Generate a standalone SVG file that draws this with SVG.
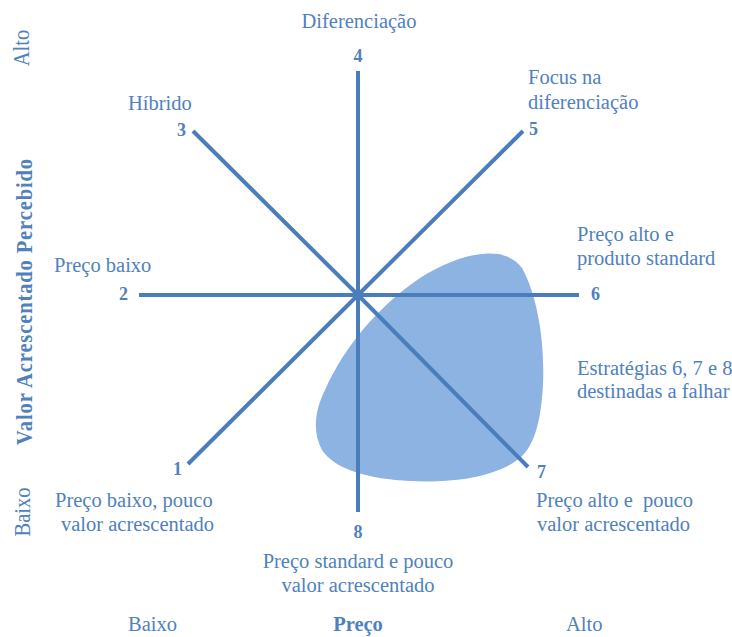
<svg xmlns="http://www.w3.org/2000/svg" width="732" height="637" viewBox="0 0 732 637">
  <style>
    text { font-family: "Liberation Serif", "Times New Roman", serif; fill: #4F81BD; font-size: 20.5px; }
    .num { font-weight: bold; font-size: 18px; }
    .bold { font-weight: bold; }
    .mid { text-anchor: middle; }
    .axis { stroke: #4A7EBB; stroke-width: 4; stroke-linecap: butt; fill: none; }
  </style>

  <rect width="732" height="637" fill="#ffffff"/>

  <!-- failure zone covering strategies 6, 7 and 8 -->
  <g id="zona-falha">
    <path d="M 483 254 C 502 252, 515 258, 522 268 C 537 295, 545 340, 543 385 C 541 420, 535 445, 520 458 C 495 478, 450 483, 410 481 C 370 479, 335 470, 322 450 C 312 432, 315 410, 325 390 C 345 345, 380 305, 420 278 C 440 265, 465 255, 483 254 Z" fill="#8DB3E2"/>
  </g>

  <!-- strategy spokes from the centre -->
  <g id="connectors">
    <line class="axis" x1="358" y1="295" x2="188" y2="464"/>
    <line class="axis" x1="358" y1="295" x2="139" y2="295"/>
    <line class="axis" x1="358" y1="295" x2="193" y2="131"/>
    <line class="axis" x1="358" y1="295" x2="358" y2="71"/>
    <line class="axis" x1="358" y1="295" x2="523" y2="131"/>
    <line class="axis" x1="358" y1="295" x2="579" y2="295"/>
    <line class="axis" x1="358" y1="295" x2="528" y2="467"/>
    <line class="axis" x1="358" y1="295" x2="358" y2="512"/>
  </g>

  <g id="n1">
    <text class="num" x="173" y="475">1</text>
    <text x="55" y="507">Preço baixo, pouco</text>
    <text x="61" y="531">valor acrescentado</text>
  </g>
  <g id="n2">
    <text class="num" x="119" y="300">2</text>
    <text x="54" y="272">Preço baixo</text>
  </g>
  <g id="n3">
    <text class="num" x="177" y="136">3</text>
    <text x="128" y="110">Híbrido</text>
  </g>
  <g id="n4">
    <text class="num mid" x="358" y="62">4</text>
    <text class="mid" x="359" y="28">Diferenciação</text>
  </g>
  <g id="n5">
    <text class="num" x="529" y="135">5</text>
    <text x="528" y="84">Focus na</text>
    <text x="528" y="109">diferenciação</text>
  </g>
  <g id="n6">
    <text class="num" x="591" y="300">6</text>
    <text x="577" y="241">Preço alto e</text>
    <text x="577" y="265">produto standard</text>
  </g>
  <g id="n7">
    <text class="num" x="537" y="478">7</text>
    <text x="536" y="507">Preço alto e&#160; pouco</text>
    <text x="537" y="531">valor acrescentado</text>
  </g>
  <g id="n8">
    <text class="num mid" x="358" y="538">8</text>
    <text class="mid" x="358" y="568">Preço standard e pouco</text>
    <text class="mid" x="358" y="592">valor acrescentado</text>
  </g>
  <g id="nota-falha">
    <text x="577" y="375">Estratégias 6, 7 e 8</text>
    <text x="577" y="398">destinadas a falhar</text>
  </g>

  <!-- axis titles -->
  <g id="eixo-preco">
    <text x="128" y="631">Baixo</text>
    <text class="bold mid" x="358" y="631">Preço</text>
    <text x="566" y="631">Alto</text>
  </g>
  <g id="eixo-valor">
    <text class="mid" transform="translate(29,48) scale(1.15,1) rotate(-90)">Alto</text>
    <text class="bold mid" transform="translate(32,302) scale(1.15,1) rotate(-90)" font-size="22" textLength="286" lengthAdjust="spacing">Valor Acrescentado Percebido</text>
    <text class="mid" transform="translate(30,512) scale(1.15,1) rotate(-90)">Baixo</text>
  </g>
</svg>
